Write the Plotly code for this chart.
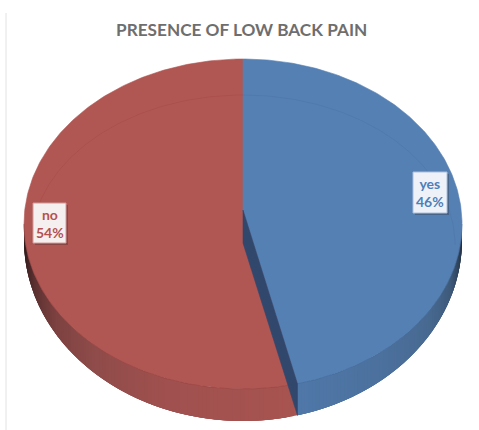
import numpy as np
import plotly.graph_objects as go

# Chart data
categories = ["yes", "no"]
shares = [46, 54]
chart_title = "PRESENCE OF LOW BACK PAIN"

# Projected geometry of the tilted disc, in pixels
CX, W, H = 243, 479, 430
RX = 219
TOP_CY, TOP_RY = 224, 165
BOTTOM_CY, BOTTOM_RY = 240, 181
APEX_Y = 210
DEPTH = 33

TOP_COLORS = {"yes": "#5580b3", "no": "#b05754"}
WALL_COLOR = "#32476c"
# Shade of the rim as a function of the angle clockwise from 12 o'clock
RIM_STOPS = {
    "yes": ([90, 98, 108, 122, 140, 170], [(28, 38, 52), (44, 62, 86), (62, 90, 122), (72, 106, 146), (76, 113, 158), (80, 121, 170)]),
    "no": ([166, 200, 222, 238, 252, 262, 270], [(168, 84, 81), (160, 81, 79), (143, 76, 74), (125, 66, 65), (90, 48, 48), (58, 32, 32), (36, 22, 22)]),
}


def top_rim(deg):
    a = np.radians(deg)
    return CX + RX * np.sin(a), TOP_CY - TOP_RY * np.cos(a)


def bottom_rim(deg):
    a = np.radians(deg)
    return CX + RX * np.sin(a), BOTTOM_CY - BOTTOM_RY * np.cos(a)


def polygon(xs, ys, color, edge=0.6):
    return go.Scatter(x=xs, y=ys, mode="lines", fill="toself", fillcolor=color,
                      line=dict(color=color, width=edge), hoverinfo="skip", showlegend=False)


# Slice extents come from the shares, clockwise from 12 o'clock
total = sum(shares)
spans = {}
start = 0.0
for name, value in zip(categories, shares):
    spans[name] = (start, start + 360.0 * value / total)
    start = spans[name][1]
seam = spans["yes"][1]

fig = go.Figure()

# Rim of the disc: each shaded strip runs on to the far end of its slice,
# so later strips paint over it and no seams show between them
for name in categories:
    lo, hi = max(spans[name][0], 90), min(spans[name][1], 270)
    stops, rgb = RIM_STOPS[name]
    edges = np.linspace(lo, hi, int(hi - lo) + 1)
    for a0 in edges[:-1]:
        c = [int(np.interp(a0, stops, [s[i] for s in rgb])) for i in range(3)]
        arc = np.linspace(a0, min(a0 + 4, hi), 6)
        tx, ty = top_rim(arc)
        bx, by = bottom_rim(arc[::-1])
        fig.add_trace(polygon(np.r_[tx, bx], np.r_[ty, by], f"rgb({c[0]},{c[1]},{c[2]})", edge=0))

# Top faces of the two slices
for name in ["no", "yes"]:
    lo, hi = spans[name]
    arc = np.linspace(lo, hi, 240)
    rx, ry = top_rim(arc)
    fig.add_trace(polygon(np.r_[CX, rx, CX], np.r_[APEX_Y, ry, APEX_Y], TOP_COLORS[name]))

# Faint bevel arc on the upper part of the face
bevel = np.radians(np.linspace(-90, 0, 90))
fig.add_trace(go.Scatter(x=CX + 212 * np.sin(bevel), y=245 - 150 * np.cos(bevel), mode="lines",
                         line=dict(color="rgba(160,62,60,0.3)", width=1), hoverinfo="skip", showlegend=False))
bevel = np.radians(np.linspace(0, 90, 90))
fig.add_trace(go.Scatter(x=CX + 212 * np.sin(bevel), y=245 - 150 * np.cos(bevel), mode="lines",
                         line=dict(color="rgba(68,108,158,0.3)", width=1), hoverinfo="skip", showlegend=False))

# Crease between the face and the rim
for name, color in [("no", "rgba(140,60,58,0.45)"), ("yes", "rgba(62,96,138,0.45)")]:
    lo, hi = max(spans[name][0], 90), min(spans[name][1], 270)
    rx, ry = top_rim(np.linspace(lo, hi, 160))
    fig.add_trace(go.Scatter(x=rx, y=ry, mode="lines", line=dict(color=color, width=1),
                             hoverinfo="skip", showlegend=False))

# Exposed cut wall between the slices
sx, sy = top_rim(seam)
bx, by = bottom_rim(seam)
fig.add_trace(polygon([CX, sx, bx, CX, CX], [APEX_Y, sy, by, APEX_Y + DEPTH, APEX_Y], WALL_COLOR))

# Data labels with a soft drop shadow
label_boxes = {"yes": (413, 172, 447, 213), "no": (33, 203, 66, 243)}
label_text = {"yes": "#4f7fb8", "no": "#b5524f"}
label_fill = {"yes": "#eef2f8", "no": "#f5efef"}
label_edge = {"yes": "#a9c0dc", "no": "#d39c9a"}
shapes = [dict(type="line", x0=6, x1=6, y0=13, y1=H, line=dict(color="#e2e2e2", width=1), layer="below")]
annotations = [dict(text=f"<b>{chart_title}</b>", x=241.5, y=29, xref="x", yref="y", showarrow=False,
                    font=dict(family="Lato", size=17.2, color="#6e6e6e"))]
for name, value in zip(categories, shares):
    x0, y0, x1, y1 = label_boxes[name]
    shapes.append(dict(type="rect", x0=x0 + 2, x1=x1 + 2, y0=y0 + 2, y1=y1 + 2, layer="above",
                       fillcolor="rgba(40,30,30,0.28)", line=dict(width=0)))
    shapes.append(dict(type="rect", x0=x0, x1=x1, y0=y0, y1=y1, layer="above",
                       fillcolor=label_fill[name], line=dict(color=label_edge[name], width=1)))
    annotations.append(dict(text=f"<b>{name}<br>{value}%</b>", x=(x0 + x1) / 2, y=(y0 + y1) / 2,
                            xref="x", yref="y", showarrow=False,
                            font=dict(family="Lato", size=14, color=label_text[name])))

fig.update_layout(
    width=W, height=H, margin=dict(l=0, r=0, t=0, b=0),
    paper_bgcolor="white", plot_bgcolor="white", showlegend=False,
    xaxis=dict(range=[0, W], visible=False, fixedrange=True),
    yaxis=dict(range=[H, 0], visible=False, fixedrange=True),
    shapes=shapes, annotations=annotations,
)
fig.write_html("out.html", config={"displayModeBar": False})
